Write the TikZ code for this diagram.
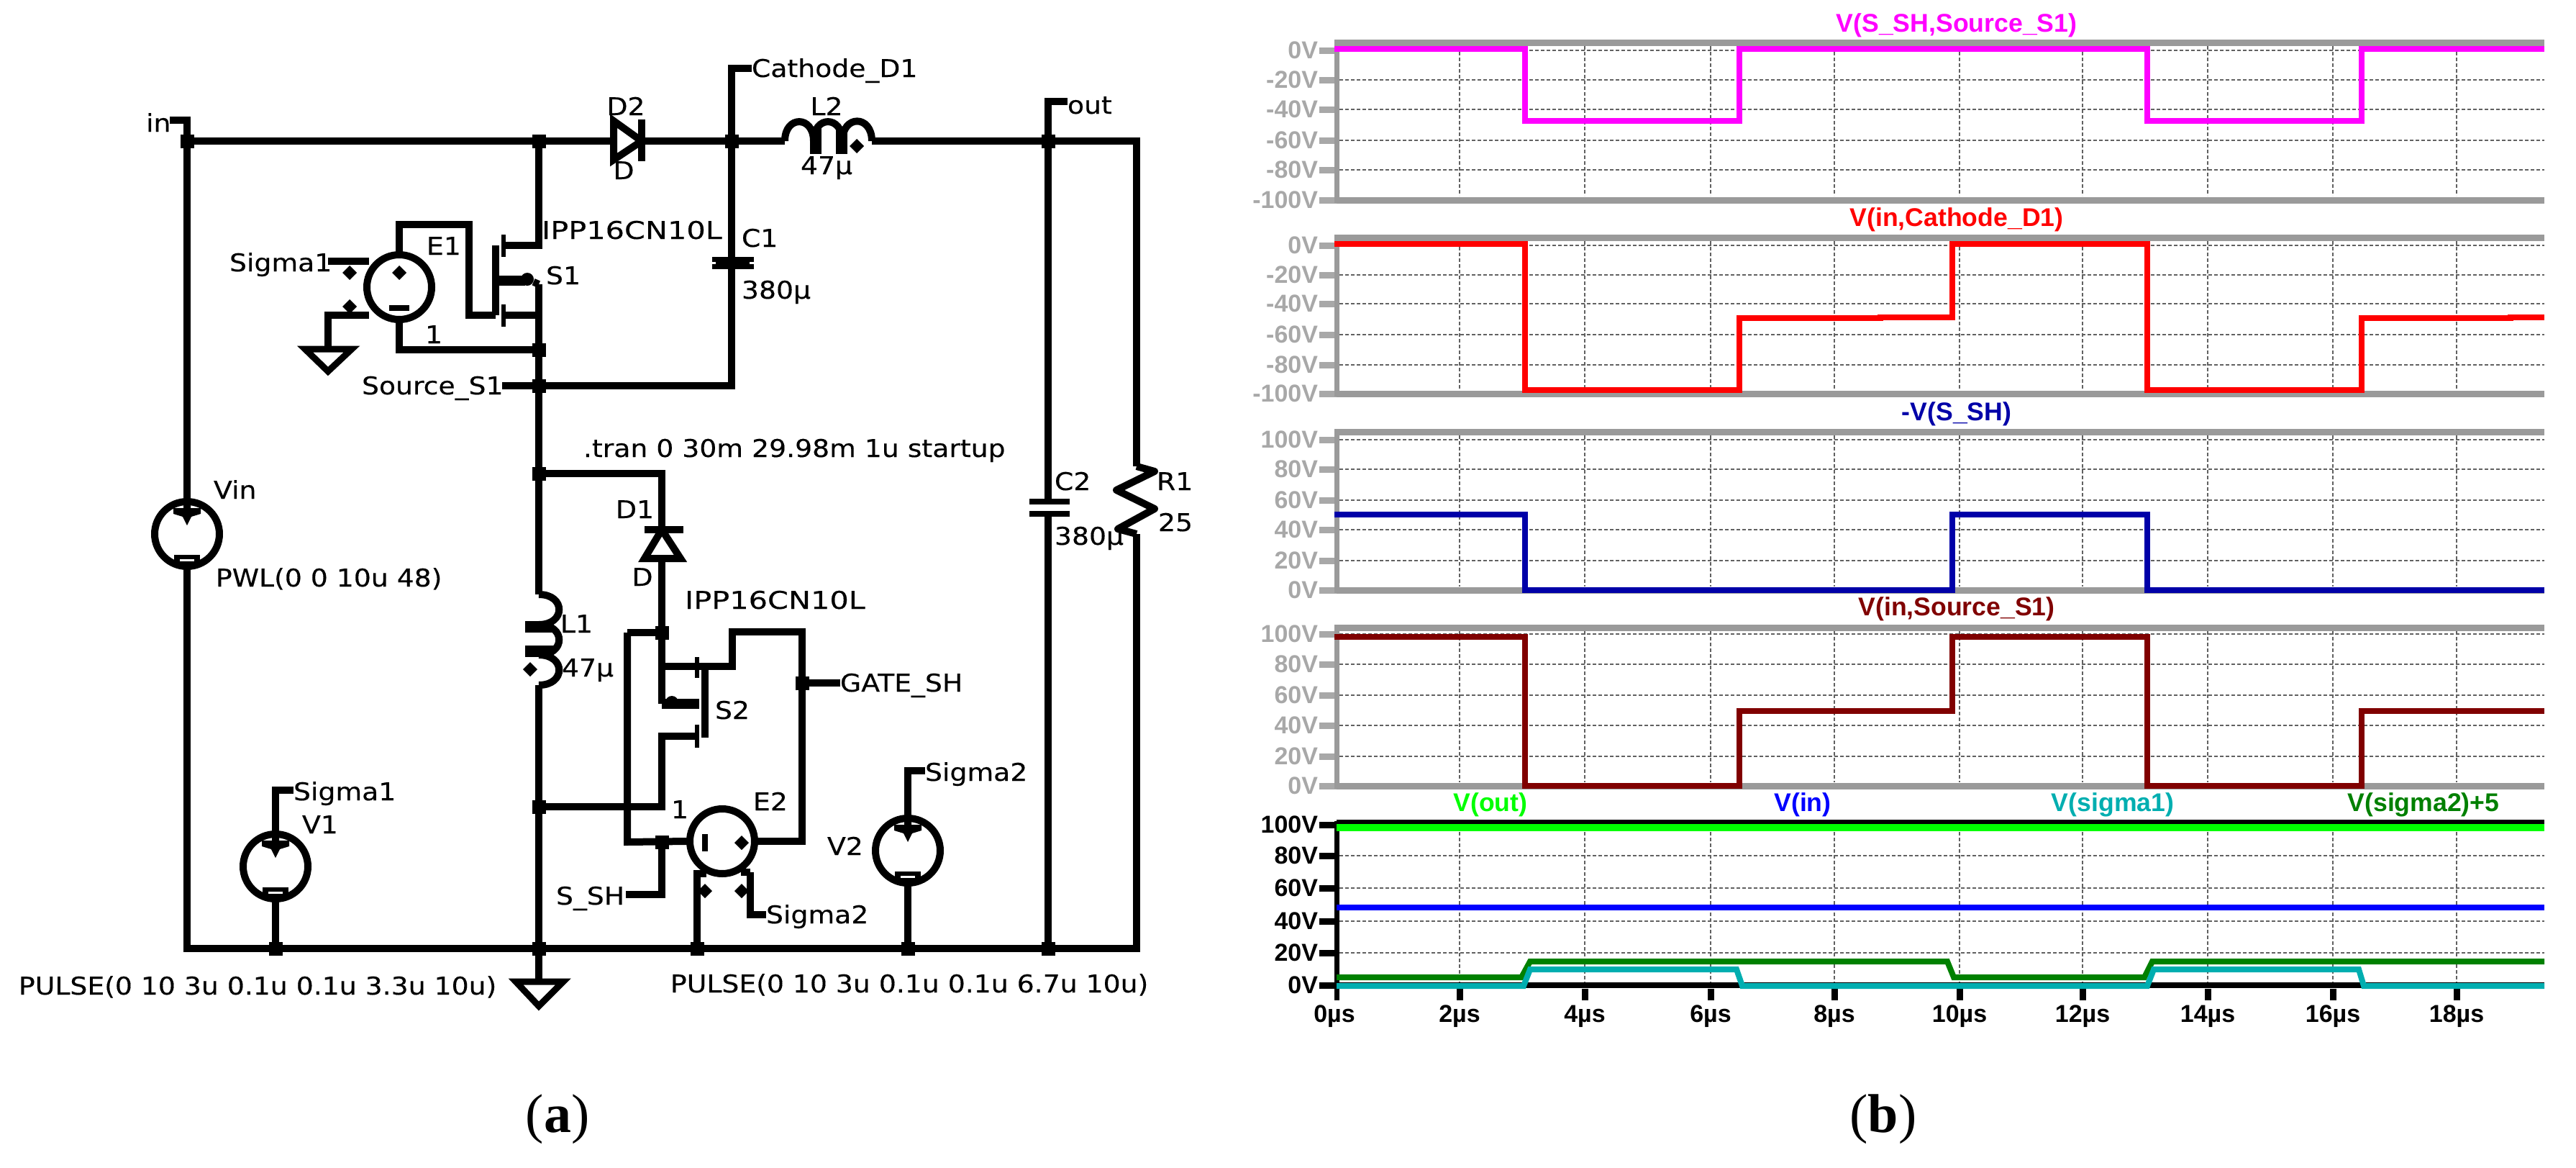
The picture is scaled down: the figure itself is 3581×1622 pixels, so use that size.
\documentclass[tikz,border=0pt]{standalone}
\usepackage{fontspec}
\usetikzlibrary{shapes.geometric}
\setmainfont{Liberation Serif}
\setsansfont{Liberation Sans}
\newfontfamily\spice[FakeStretch=1.11,FakeBold=0.35]{DejaVu Sans}
\newfontfamily\spicewide[FakeStretch=1.22,FakeBold=0.35]{DejaVu Sans}
\definecolor{pgray}{HTML}{9A9A9A}
\definecolor{lgray}{HTML}{A8A8A8}
\definecolor{wmag}{HTML}{FF00FF}
\definecolor{wred}{HTML}{FF0000}
\definecolor{wnavy}{HTML}{0000A8}
\definecolor{wbrown}{HTML}{800000}
\definecolor{wlime}{HTML}{00FF00}
\definecolor{wblue}{HTML}{0000FF}
\definecolor{wteal}{HTML}{00AEB0}
\definecolor{wgreen}{HTML}{008000}
\tikzset{
  wire/.style={line width=5pt,line join=miter,line cap=butt},
  fat/.style={line width=7pt,line cap=butt},
  junc/.style={rectangle,fill=black,minimum size=9.5pt,inner sep=0pt,outer sep=0pt},
  pindot/.style={diamond,fill=black,minimum size=10pt,inner sep=0pt,outer sep=0pt},
  srcnode/.style={circle,draw,line width=5pt,minimum size=45pt,inner sep=0pt,fill=white},
  gnd/.style={line width=4.5pt,line join=miter,fill=white},
  lab/.style={anchor=base west,inner sep=0pt,outer sep=0pt,font=\spice\fontsize{17pt}{20pt}\selectfont},
  labc/.style={anchor=base,inner sep=0pt,outer sep=0pt,font=\spice\fontsize{17pt}{20pt}\selectfont},
  gridl/.style={line width=1.1pt,draw=black!62,dash pattern=on 2.4pt off 1.6pt},
  frameg/.style={line width=4.5pt,draw=pgray},
  frameb/.style={line width=4pt,draw=black},
  wave/.style={line width=4pt,line join=miter},
  axlab/.style={anchor=east,inner sep=0pt,outer sep=0pt,font=\sffamily\bfseries\fontsize{17pt}{20pt}\selectfont},
  xlab/.style={anchor=center,inner sep=0pt,outer sep=0pt,font=\sffamily\bfseries\fontsize{17pt}{20pt}\selectfont},
  ttl/.style={anchor=center,inner sep=0pt,outer sep=0pt,font=\sffamily\bfseries\fontsize{17.8pt}{20pt}\selectfont},
  capt/.style={anchor=center,inner sep=0pt,outer sep=0pt,font=\rmfamily\fontsize{38pt}{42pt}\selectfont}
}
% voltage source with plus and minus marks
\newcommand{\vsource}[3]{%
  \node[srcnode] (#1) at (#2,#3) {};
  \fill (#2-5,#3-48) -- (#2+5,#3-48) -- (#2+5,#3-36) -- (#2+19,#3-36) -- (#2+19,#3-28) -- (#2+6,#3-24) -- (#2,#3-12) -- (#2-6,#3-24) -- (#2-19,#3-28) -- (#2-19,#3-36) -- (#2-5,#3-36) -- cycle;
  \fill (#2-18,#3+29) rectangle (#2+18,#3+43);
  \fill[white] (#2-10,#3+35) rectangle (#2+10,#3+38);
}
\newcommand{\lab}[4]{\node[lab] (#1) at (#2,#3+12) {#4};}
\newcommand{\labcc}[4]{\node[labc] (#1) at (#2,#3+12) {#4};}
\newcommand{\gridV}[2]{\foreach \gx in {2029,2203,2378,2550,2724,2895,3069,3243,3415} \draw[gridl] (\gx,#1) -- (\gx,#2);}
\newcommand{\yaxis}[3]{%
  \foreach \yy/\lbl [count=\k] in {#2} {
    \draw[gridl] (1862,\yy) -- (3537,\yy);
    \draw[line width=4.5pt,draw=#3] (1834,\yy) -- (1858,\yy);
    \node[axlab,text=#3] (ax#1n\k) at (1832,\yy) {\lbl};
  }}
\begin{document}
\begin{tikzpicture}[x=0.5pt,y=-0.5pt]
\useasboundingbox (0,0) rectangle (3581,1622);
% ---------- junctions
\node[junc] (jin) at (260,196) {};
\node[junc] (jtop) at (749,196) {};
\node[junc] (jcat) at (1017,196) {};
\node[junc] (jout) at (1457,196) {};
\node[junc] (jsrc) at (749,486) {};
\node[junc] (jss) at (749,536) {};
\node[junc] (jd1) at (749,658) {};
\node[junc] (jl1) at (749,1121) {};
\node[junc] (jgb) at (749,1318) {};
\node[junc] (jv1) at (383,1318) {};
\node[junc] (je2) at (969,1318) {};
\node[junc] (jv2) at (1262,1318) {};
\node[junc] (jc2) at (1457,1318) {};
\node[junc] (js2d) at (920,879) {};
\node[junc] (js2s) at (920,1170) {};
\node[junc] (jgate) at (1115,949) {};
% ---------- sources
\vsource{vin}{260}{742}
\vsource{vone}{383}{1204}
\vsource{vtwo}{1262}{1182}
\node[srcnode] (eone) at (555,399) {};
\node[srcnode] (etwo) at (1004,1169) {};
\node[pindot] (ep1) at (555,379) {};
\fill (555-14,428-4) rectangle (555+14,428+4);
\node[pindot] (ep2) at (1031,1171) {};
\fill (980-4,1171-12) rectangle (980+4,1171+12);
\node[pindot] (sp1) at (486,379) {};
\node[pindot] (sp2) at (486,426) {};
\node[pindot] (sp3) at (980,1238) {};
\node[pindot] (sp4) at (1031,1238) {};
% ---------- free wire ends
\coordinate (inend) at (236,167);
\coordinate (catend) at (1045,95);
\coordinate (outend) at (1484,141);
\coordinate (ssend) at (698,536);
\coordinate (s1top) at (749,341);
\coordinate (s1d) at (700,341);
\coordinate (s1sj) at (749,395);
\coordinate (s1s) at (700,438);
\coordinate (s1g) at (689,438);
\coordinate (s1gt) at (652,312);
\coordinate (sigl) at (456,363);
\coordinate (sigr) at (513,363);
\coordinate (gr) at (513,438);
\coordinate (gl) at (456,438);
\coordinate (gndt) at (456,485);
\coordinate (d2a) at (853,196);
\coordinate (d2k) at (892,196);
\coordinate (l2a) at (1091,196);
\coordinate (l2b) at (1212,196);
\coordinate (rt) at (1580,648);
\coordinate (rb) at (1580,742);
\coordinate (rc) at (1580,196);
\coordinate (rbot) at (1580,1318);
\coordinate (c1a) at (1017,360);
\coordinate (c1b) at (1017,372);
\coordinate (c2a) at (1457,697);
\coordinate (c2b) at (1457,714);
\coordinate (binl) at (260,1318);
\coordinate (l1a) at (749,826);
\coordinate (l1b) at (749,952);
\coordinate (d1a) at (920,776);
\coordinate (d1k) at (920,736);
\coordinate (s2b) at (872,1170);
\coordinate (s2bt) at (872,879);
\coordinate (s2db) at (969,926);
\coordinate (s2g) at (1018,878);
\coordinate (s2gr) at (1115,1169);
\coordinate (s2s) at (969,1023);
\coordinate (s2sc) at (920,1023);
\coordinate (s2bd) at (920,978);
\coordinate (ssh) at (870,1243);
\coordinate (gateend) at (1168,949);
\coordinate (e2l) at (969,1214);
\coordinate (e2r) at (1043,1212);
\coordinate (sig2a) at (1065,1271);
\coordinate (sig2b) at (1286,1071);
\coordinate (sig1b) at (408,1098);
\coordinate (gb) at (749,1364);
% ---------- wires
\draw[wire] (inend) -| (jin.center);
\draw[wire] (jin.center) -- (d2a);
\draw[wire] (d2k) -- (l2a);
\draw[wire] (l2b) -- (rc) -- (rt);
\draw[wire] (jin.center) -- (vin.north);
\draw[wire] (vin.south) -- (binl) -- (rbot) -- (rb);
\draw[wire] (jtop.center) -- (s1top) -- (s1d);
\draw[wire] (s1sj) -- (l1a);
\draw[wire] (l1b) -- (jgb.center) -- (gb);
\draw[wire] (s1s) -- (749,438);
\draw[wire] (s1g) -- (652,438) -- (s1gt) -| (eone.north);
\draw[wire] (eone.south) |- (jsrc.center);
\draw[wire] (ssend) -- (jss.center) -| (c1b);
\draw[wire] (c1a) -- (jcat.center) |- (catend);
\draw[wire] (sigl) -- (sigr);
\draw[wire] (gr) -- (gl) -- (gndt);
\draw[wire] (outend) -| (jout.center);
\draw[wire] (jout.center) -- (c2a);
\draw[wire] (c2b) -- (jc2.center);
\draw[wire] (jd1.center) -| (d1k);
\draw[wire] (d1a) -- (js2d.center) -- (s2bd);
\draw[wire] (s2bt) -- (js2d.center);
\draw[wire] (s2bt) -- (s2b) -- (etwo.west);
\draw[wire] (js2s.center) |- (ssh);
\draw[wire] (920,926) -- (1018,926) -- (s2g) -- (1115,878) -- (s2gr) -- (etwo.east);
\draw[wire] (jgate.center) -- (gateend);
\draw[wire] (s2s) -- (s2sc) |- (jl1.center);
\draw[wire] (vone.north) |- (sig1b);
\draw[wire] (vone.south) -- (jv1.center);
\draw[wire] (vtwo.north) |- (sig2b);
\draw[wire] (vtwo.south) -- (jv2.center);
\draw[wire] (je2.center) -- (e2l) -- (982,1214);
\draw[wire] (e2r) |- (sig2a);
\draw[wire] (1030,1212) -- (e2r);
% ---------- S1
\draw[wire] (689,341) -- (689,438);
\draw[line width=3pt] (700,326) -- (700,357);
\draw[line width=3pt] (700,423) -- (700,454);
\draw[fat] (692,390) -- (730,390);
\node[circle,fill=black,minimum size=9pt,inner sep=0pt] (s1dot) at (733,388) {};
\draw[wire] (s1dot) -- (s1sj);
% ---------- S2
\draw[wire] (980,926) -- (980,1025);
\draw[line width=3pt] (969,913) -- (969,942);
\draw[line width=3pt] (969,1007) -- (969,1039);
\draw[fat] (s2bd) -- (972,978);
\node[circle,fill=black,minimum size=9pt,inner sep=0pt] (s2dot) at (934,976) {};
% ---------- diodes
\draw[wire,fill=white] (853,168) -- (892,196) -- (853,222) -- cycle;
\draw[wire] (892,166) -- (892,224);
\draw[wire,fill=white] (896,776) -- (920,736) -- (946,776) -- cycle;
\draw[wire] (896,736) -- (950,736);
% ---------- capacitors
\draw[line width=3.5pt] (990,360) -- (1048,360);
\draw[line width=3.5pt] (990,370) -- (1048,370);
\fill (995,358) rectangle (1042,372);
\draw[line width=4pt] (1431,697) -- (1487,697);
\draw[line width=4pt] (1431,714) -- (1487,714);
% ---------- inductors
\draw[wire] (l2a) to[out=90,in=90,looseness=2.3] (1131,196) to[out=90,in=90,looseness=2.3] (1171,196) to[out=90,in=90,looseness=2.3] (l2b);
\draw[line width=8pt] (1134,176) -- (1134,214);
\draw[line width=8pt] (1170,176) -- (1170,214);
\node[pindot] (l2dot) at (1191,203) {};
\draw[wire] (l1a) to[out=0,in=0,looseness=2.3] (749,868) to[out=0,in=0,looseness=2.3] (749,910) to[out=0,in=0,looseness=2.3] (l1b);
\draw[line width=8pt] (730,871) -- (770,871);
\draw[line width=8pt] (730,905) -- (770,905);
\node[pindot] (l1dot) at (737,930) {};
% ---------- resistor
\draw[wire,line join=round] (rt) -- (1605,655) -- (1552,681) -- (1605,707) -- (1554,735) -- (rb);
% ---------- grounds
\draw[gnd] (424,485) -- (489,485) -- (456,516) -- cycle;
\draw[gnd] (717,1364) -- (783,1364) -- (749,1398) -- cycle;
% ---------- schematic labels
\lab{tin}{203}{171}{in}
\lab{tcat}{1045}{95}{Cathode\_D1}
\lab{tout}{1484}{146}{out}
\labcc{td2}{870}{148}{D2}
\labcc{td2m}{867}{237}{D}
\labcc{tl2}{1149}{148}{L2}
\labcc{tl2v}{1149}{230}{47µ}
\node[lab,font=\spicewide\fontsize{17pt}{20pt}\selectfont] (tipp1) at (753,332) {IPP16CN10L};
\lab{ts1}{759}{383}{S1}
\lab{te1}{593}{342}{E1}
\labcc{tone1}{603}{465}{1}
\lab{tsig1}{319}{365}{Sigma1}
\lab{tss}{503}{536}{Source\_S1}
\lab{tc1}{1031}{331}{C1}
\lab{tc1v}{1031}{403}{380µ}
\lab{ttran}{811}{623}{.tran 0 30m 29.98m 1u startup}
\lab{tvin}{297}{681}{Vin}
\lab{tpwl}{300}{803}{PWL(0 0 10u 48)}
\lab{td1}{856}{708}{D1}
\labcc{td1m}{893}{802}{D}
\node[lab,font=\spicewide\fontsize{17pt}{20pt}\selectfont] (tipp2) at (952,846) {IPP16CN10L};
\lab{tl1}{779}{867}{L1}
\lab{tl1v}{781}{928}{47µ}
\lab{ts2}{994}{987}{S2}
\lab{tgate}{1168}{949}{GATE\_SH}
\lab{tc2}{1466}{669}{C2}
\lab{tc2v}{1466}{745}{380µ}
\lab{tr1}{1608}{669}{R1}
\lab{tr1v}{1610}{726}{25}
\lab{tsig1b}{408}{1100}{Sigma1}
\lab{tv1}{420}{1146}{V1}
\lab{tsig2b}{1286}{1073}{Sigma2}
\lab{tv2}{1150}{1176}{V2}
\lab{te2}{1047}{1114}{E2}
\labcc{tone2}{945}{1125}{1}
\lab{tssh}{773}{1245}{S\_SH}
\lab{tsig2}{1065}{1271}{Sigma2}
\lab{tpl1}{26}{1370}{PULSE(0 10 3u 0.1u 0.1u 3.3u 10u)}
\lab{tpl2}{932}{1367}{PULSE(0 10 3u 0.1u 0.1u 6.7u 10u)}
\node[capt] (capa) at (775,1555) {(\textbf{a})};
\node[capt] (capb) at (2618,1555) {(\textbf{b})};
% ---------- panel 1
\gridV{64}{272}
\yaxis{p}{70/0V,111/-20V,152/-40V,195/-60V,236/-80V,278/-100V}{lgray}
\draw[frameg] (1858,59) -- (3537,59);
\draw[frameg] (1858,278) -- (3537,278);
\draw[frameg,line width=3.5pt] (1858,55) -- (1858,282);
\draw[wave,wmag] (1855,68) -- (2120,68) -- (2120,168) -- (2418,168) -- (2418,68) -- (2985,68) -- (2985,168) -- (3283,168) -- (3283,68) -- (3537,68);
\node[ttl,text=wmag] (t1) at (2720,35) {V(S\_SH,Source\_S1)};
% ---------- panel 2
\gridV{335}{541}
\yaxis{q}{341/0V,382/-20V,422/-40V,465/-60V,507/-80V,547/-100V}{lgray}
\draw[frameg] (1858,330) -- (3537,330);
\draw[frameg] (1858,547) -- (3537,547);
\draw[frameg,line width=3.5pt] (1858,326) -- (1858,551);
\draw[wave,wred] (1855,339) -- (2120,339) -- (2120,542) -- (2418,542) -- (2418,442) -- (2614,442) -- (2614,441) -- (2714,441) -- (2714,339) -- (2985,339) -- (2985,542) -- (3283,542) -- (3283,442) -- (3490,442) -- (3490,441) -- (3537,441);
\node[ttl,text=wred] (t2) at (2720,305) {V(in,Cathode\_D1)};
% ---------- panel 3
\gridV{605}{815}
\yaxis{r}{611/100V,652/80V,695/60V,736/40V,779/20V,820/0V}{lgray}
\draw[frameg] (1858,600) -- (3537,600);
\draw[frameg] (1858,820) -- (3537,820);
\draw[frameg,line width=3.5pt] (1858,596) -- (1858,824);
\draw[wave,wnavy] (1855,715) -- (2120,715) -- (2120,820) -- (2714,820) -- (2714,715) -- (2985,715) -- (2985,820) -- (3537,820);
\node[ttl,text=wnavy] (t3) at (2720,575) {-V(S\_SH)};
% ---------- panel 4
\gridV{877}{1087}
\yaxis{s}{881/100V,923/80V,966/60V,1008/40V,1051/20V,1092/0V}{lgray}
\draw[frameg] (1858,872) -- (3537,872);
\draw[frameg] (1858,1092) -- (3537,1092);
\draw[frameg,line width=3.5pt] (1858,868) -- (1858,1096);
\draw[wave,wbrown] (1855,885) -- (2120,885) -- (2120,1092) -- (2418,1092) -- (2418,988) -- (2714,988) -- (2714,885) -- (2985,885) -- (2985,1092) -- (3283,1092) -- (3283,988) -- (3537,988);
\node[ttl,text=wbrown] (t4) at (2720,846) {V(in,Source\_S1)};
% ---------- panel 5
\gridV{1148}{1365}
\yaxis{t}{1146/100V,1189/80V,1234/60V,1280/40V,1324/20V,1369/0V}{black}
\draw[frameb] (1858,1143) -- (3537,1143);
\draw[frameb] (1858,1369) -- (3537,1369);
\draw[frameb,line width=3.5pt] (1858,1141) -- (1858,1390);
\foreach \tx/\tl [count=\k] in {2029/2,2203/4,2378/6,2550/8,2724/10,2895/12,3069/14,3243/16,3415/18} {
  \draw[line width=4.5pt] (\tx,1374) -- (\tx,1390);
  \node[xlab] (xt\k) at (\tx,1412) {\tl µs};
}
\node[xlab] (xt0) at (1855,1412) {0µs};
\draw[wave,wlime,line width=5pt] (1858,1150) -- (3537,1150);
\draw[wave,wblue] (1858,1261) -- (3537,1261);
\draw[wave,wgreen] (1858,1358) -- (2115,1358) -- (2127,1336) -- (2707,1336) -- (2716,1358) -- (2981,1358) -- (2992,1336) -- (3537,1336);
\draw[wave,wteal] (1858,1370) -- (2118,1370) -- (2127,1347) -- (2414,1347) -- (2422,1370) -- (2985,1370) -- (2994,1347) -- (3279,1347) -- (3286,1370) -- (3537,1370);
\node[ttl,text=wlime] (t5) at (2072,1118) {V(out)};
\node[ttl,text=wblue] (t6) at (2506,1118) {V(in)};
\node[ttl,text=wteal] (t7) at (2937,1118) {V(sigma1)};
\node[ttl,text=wgreen] (t8) at (3369,1118) {V(sigma2)+5};
\end{tikzpicture}
\end{document}
